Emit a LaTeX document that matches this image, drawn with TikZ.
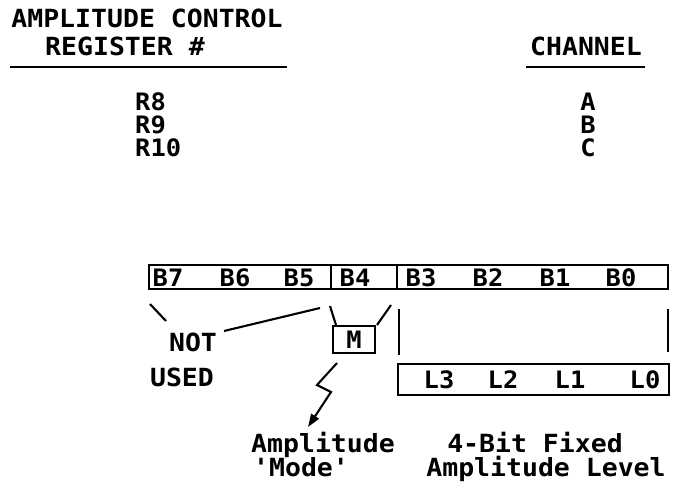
\documentclass[tikz,border=0pt]{standalone}
\usepackage{fontspec}
\newfontfamily\mono{DejaVu Sans Mono}[FakeStretch=1.06]
\usetikzlibrary{arrows.meta}
\begin{document}
\begin{tikzpicture}[x=1pt,y=-1pt,
  txt/.style={font=\mono\bfseries\fontsize{25}{25}\selectfont, inner sep=0pt, anchor=base},
  lst/.style={font=\mono\bfseries\fontsize{24}{24}\selectfont, inner sep=0pt, anchor=base},
  bit/.style={font=\mono\bfseries\fontsize{24}{24}\selectfont, inner sep=0pt, anchor=base},
  ln/.style={line width=2.1pt},
  boxline/.style={draw, line width=2.1pt}]
\useasboundingbox (0,0) rectangle (679,487);
% headers
\node[txt] (t1) at (147,28) {AMPLITUDE CONTROL};
\node[txt] (t2) at (125,56) {REGISTER \#};
\coordinate (u1a) at (10,67); \coordinate (u1b) at (287,67);
\draw[ln] (u1a) -- (u1b);
\node[txt] (ch) at (586,56) {CHANNEL};
\coordinate (u2a) at (526,67); \coordinate (u2b) at (645,67);
\draw[ln] (u2a) -- (u2b);
% register / channel list
\node[lst, anchor=base west] (r8) at (135,110) {R8};
\node[lst, anchor=base west] (r9) at (135,133) {R9};
\node[lst, anchor=base west] (r10) at (135,156) {R10};
\node[lst] (ca) at (588,110) {A};
\node[lst] (cb) at (588,133) {B};
\node[lst] (cc) at (588,156) {C};
% register box
\coordinate (regtl) at (149,265); \coordinate (regbr) at (668,289);
\draw[boxline] (regtl) rectangle (regbr);
\coordinate (d1t) at (331,265); \coordinate (d1b) at (331,289);
\coordinate (d2t) at (397,265); \coordinate (d2b) at (397,289);
\draw[ln] (d1t) -- (d1b);
\draw[ln] (d2t) -- (d2b);
\node[bit] (b7) at (168,286) {B7};
\node[bit] (b6) at (235,286) {B6};
\node[bit] (b5) at (299,286) {B5};
\node[bit] (b4) at (355,286) {B4};
\node[bit] (b3) at (421,286) {B3};
\node[bit] (b2) at (488,286) {B2};
\node[bit] (b1) at (555,286) {B1};
\node[bit] (b0) at (621,286) {B0};
% not used
\node[txt] (not) at (193,351) {NOT};
\node[txt] (used) at (182,386) {USED};
\coordinate (n1a) at (150,304); \coordinate (n1b) at (166,321);
\coordinate (n2a) at (224,331); \coordinate (n2b) at (320,308);
\draw[ln] (n1a) -- (n1b);
\draw[ln] (n2a) -- (n2b);
% mode bit
\coordinate (mtl) at (333,326); \coordinate (mbr) at (375,353);
\draw[boxline] (mtl) rectangle (mbr);
\node[bit] (m) at (354,348) {M};
\coordinate (m1a) at (330,306); \coordinate (m1b) at (336,325);
\coordinate (m2a) at (391,305); \coordinate (m2b) at (377,325);
\draw[ln] (m1a) -- (m1b);
\draw[ln] (m2a) -- (m2b);
\coordinate (z0) at (337,363); \coordinate (z1) at (317,385);
\coordinate (z2) at (331,392); \coordinate (z3) at (308,427);
\draw[ln, line join=miter, -{Triangle[length=13pt,width=9pt]}] (z0) -- (z1) -- (z2) -- (z3);
% level bits
\coordinate (v1a) at (399,309); \coordinate (v1b) at (399,355);
\coordinate (v2a) at (668,309); \coordinate (v2b) at (668,352);
\draw[ln] (v1a) -- (v1b);
\draw[ln] (v2a) -- (v2b);
\coordinate (ltl) at (398,364); \coordinate (lbr) at (669,395);
\draw[boxline] (ltl) rectangle (lbr);
\node[bit] (l3) at (439,388) {L3};
\node[bit] (l2) at (503,388) {L2};
\node[bit] (l1) at (570,388) {L1};
\node[bit] (l0) at (645,388) {L0};
% captions
\node[txt] (amp) at (323,452) {Amplitude};
\node[txt] (mode) at (301,476) {\char39 Mode\char39};
\node[txt] (fix) at (535,452) {4-Bit Fixed};
\node[txt] (lev) at (546,476) {Amplitude Level};
\end{tikzpicture}
\end{document}
